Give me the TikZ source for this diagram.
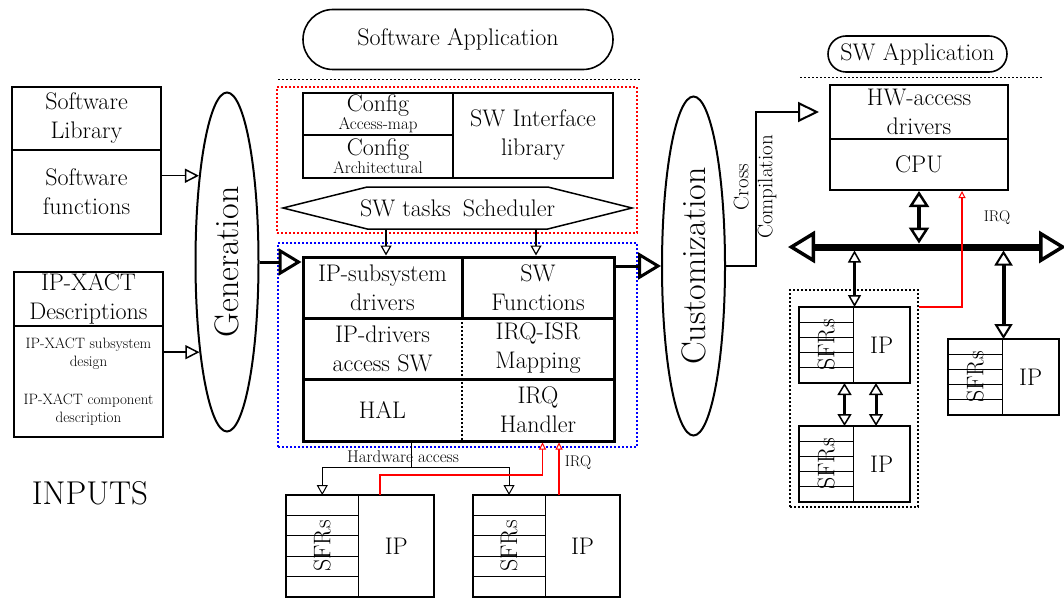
\documentclass[tikz,border=0pt]{standalone}
\usepackage{fontspec}
\usetikzlibrary{arrows.meta,shapes.geometric,shapes.symbols,calc}

\newcommand{\normtxt}{\fontsize{24}{29}\selectfont}
\newcommand{\smalltxt}{\fontsize{17}{19}\selectfont}
\newcommand{\tinytxt}{\fontsize{15}{18}\selectfont}
\newcommand{\midtxt}{\fontsize{21}{24}\selectfont}
\newcommand{\irqtxt}{\fontsize{15.5}{17}\selectfont}
\newcommand{\hugetxt}{\fontsize{34}{38}\selectfont}

% IP block with its SFR column: name, centre, width, height
\newcommand{\ipblock}[4]{%
  \node[ipframe, minimum width=#3pt, minimum height=#4pt] (#1) at #2 {};
  \node[sfrcol, anchor=north west, minimum width=0.49*#3pt, minimum height=#4pt] (#1-sfr) at (#1.north west) {};
  \foreach \k in {1,...,4}
    \draw[line width=0.8pt] ($(#1-sfr.north west)!\k/5!(#1-sfr.south west)$) -- ($(#1-sfr.north east)!\k/5!(#1-sfr.south east)$);
  \node[rotate=90, font=\normtxt] (#1-sfrtxt) at (#1-sfr) {SFRs};
  \node[font=\normtxt] (#1-iptxt) at ($(#1-sfr.east)!0.5!(#1.east)$) {IP};
}

\begin{document}
\begin{tikzpicture}[x=1pt, y=-1pt,
    cell/.style = {draw, line width=2pt, align=center, inner sep=0pt, font=\normtxt},
    area/.style = {align=center, inner sep=0pt, font=\normtxt},
    stage/.style = {ellipse, draw, line width=2pt, minimum width=63pt,
        minimum height=339pt, inner sep=0pt},
    pill/.style = {draw, line width=1.6pt, font=\normtxt, inner sep=0pt},
    dotline/.style = {dash pattern=on 1.6pt off 2.4pt},
    zone/.style = {draw, dotline, line width=1.6pt, inner sep=0pt},
    ipframe/.style = {draw, line width=2.5pt, inner sep=0pt, outer sep=0pt},
    sfrcol/.style = {draw, line width=0.8pt, inner sep=0pt, outer sep=0pt},
    inarrow/.style = {line width=1.5pt, ->,
        >={Triangle[fill=white, length=14pt, width=14pt, line width=1.5pt]}},
    schedarrow/.style = {line width=1.5pt, ->,
        >={Triangle[fill=white, length=10pt, width=11pt, line width=1.2pt]}},
    bigarrow/.style = {line width=3pt, ->,
        >={Triangle[fill=white, length=23pt, width=27pt, line width=3pt]}},
    xarrow/.style = {line width=2pt, ->, shorten >=10pt,
        >={Triangle[fill=white, length=21pt, width=20pt, line width=2pt]}},
    bus/.style = {line width=7pt, <->,
        >={Triangle[fill=white, length=27pt, width=32pt, line width=3.5pt]}},
    cpulink/.style = {line width=4.5pt, <->, shorten >=3.5pt,
        >={Triangle[fill=white, length=16pt, width=20pt, line width=2.5pt]}},
    grplink/.style = {line width=2.5pt, <->, shorten <=3.5pt,
        >={Triangle[fill=white, length=12pt, width=13pt, line width=1.5pt]}},
    peerlink/.style = {line width=3pt, <->,
        >={Triangle[fill=white, length=12pt, width=14pt, line width=1.5pt]}},
    rlink/.style = {line width=4pt, <->, shorten <=3.5pt,
        >={Triangle[fill=white, length=15pt, width=18pt, line width=2pt]}},
    hwarrow/.style = {line width=1pt, ->,
        >={Triangle[fill=white, length=10pt, width=11pt, line width=1pt]}},
    irq/.style = {red, line width=1.3pt, ->,
        >={Triangle[fill=white, length=7pt, width=7pt, line width=1pt]}}]

    \useasboundingbox (0,0) rectangle (1064,599);

    % Inputs
    \node[cell, minimum width=149pt, minimum height=63pt] (swlib) at (86.5,118.5) {Software\\Library};
    \node[cell, minimum width=149pt, minimum height=84pt] (swfun) at (86.5,192) {Software\\functions};
    \node[cell, minimum width=149pt, minimum height=54pt] (ipx) at (88.5,299) {IP-XACT\\Descriptions};
    \node[cell, minimum width=149pt, minimum height=111pt, font=\tinytxt] (ipxd) at (88.5,381.5)
        {IP-XACT subsystem\\design\\[20pt]IP-XACT component\\description};
    \node[font=\fontsize{33}{36}\selectfont] (inputs) at (90,493) {INPUTS};

    % Generation
    \node[stage] (gen) at (227,262) {};
    \node[rotate=90, font=\hugetxt] (gentxt) at (gen) {Generation};
    \draw[inarrow] (gen.108 -| swfun.east) -- (gen.108);
    \draw[inarrow] (gen.253 -| ipxd.east) -- (gen.253);

    % Software application and configuration
    \node[pill, minimum width=310pt, minimum height=60pt, rounded corners=30pt] (swapp) at (458,39.5) {Software Application};
    \draw[dotline, line width=1pt] (278,80) -- (640,80);
    \node[zone, draw=red, minimum width=360pt, minimum height=146pt] (cfgzone) at (457,160) {};
    \node[zone, draw=blue, minimum width=359pt, minimum height=204pt] (drvzone) at (457.5,345) {};

    \node[cell, minimum width=150pt, minimum height=42pt] (cfgmap) at (378,114) {Config\\[-11pt]{\smalltxt Access-map}};
    \node[cell, minimum width=150pt, minimum height=43pt] (cfgarch) at (378,156.5) {Config\\[-11pt]{\smalltxt Architectural}};
    \node[cell, minimum width=160pt, minimum height=85pt] (swif) at (533,135.5) {SW Interface\\library};

    % Scheduler
    \node[signal, signal to=west and east, signal pointer angle=28, draw, line width=1.5pt,
        minimum width=349pt, minimum height=42pt, inner sep=0pt, inner xsep=-14pt,
        font=\normtxt] (sched) at (457.5,208) {SW tasks\enspace Scheduler};

    % Generated drivers
    \node[draw, line width=3pt, minimum width=311pt, minimum height=184pt, inner sep=0pt] (core) at (458.5,349) {};
    \node[area] (ipsd) at (382.5,287.5) {IP-subsystem\\drivers};
    \node[area] (swfn) at (538,287.5) {SW\\Functions};
    \node[area] (ipdr) at (382.5,348.5) {IP-drivers\\access SW};
    \node[area] (irqmap) at (538,348.5) {IRQ-ISR\\Mapping};
    \node[area] (hal) at (382.5,410) {HAL};
    \node[area] (irqh) at (538,410) {IRQ\\Handler};
    \draw[line width=3pt] (303,318) -- (614,318);
    \draw[line width=3pt] (303,379) -- (614,379);
    \draw[line width=3pt] (462,257) -- (462,318);
    \draw[dotline, line width=1.5pt] (462,318) -- (462,441);

    \draw[schedarrow] ([xshift=-71.5pt]sched.south) -- ([xshift=-71.5pt]sched.south |- core.north);
    \draw[schedarrow] ([xshift=78.5pt]sched.south) -- ([xshift=78.5pt]sched.south |- core.north);
    \draw[bigarrow] (gen.east) -- (gen.east -| core.west);

    % Hardware IPs below
    \ipblock{ipA}{(360,546)}{148}{102}
    \ipblock{ipB}{(546.5,546)}{147}{102}
    \coordinate (hwa) at ([xshift=110pt]core.south west);
    \draw[hwarrow] (hwa) -- ++(0,25) -| (ipA-sfr.north);
    \draw[hwarrow] (hwa) -- ++(0,25) -| (ipB-sfr.north);
    \node[font=\smalltxt] (hwlbl) at (403,457) {Hardware access};
    \coordinate (irqA) at ([xshift=94pt]ipA.north west);
    \coordinate (irqB) at ([xshift=86pt]ipB.north west);
    \draw[irq] (irqA) -- ++(0,-20) -| ([xshift=241pt]core.south west);
    \draw[irq] (irqB) -- (irqB |- core.south);
    \node[font=\irqtxt] (irqlbl) at (578,463) {IRQ};

    % Customization
    \node[stage] (cust) at (693.5,266) {};
    \node[rotate=90, font=\hugetxt] (custtxt) at (cust) {Customization};
    \draw[bigarrow] (cust.west -| core.east) -- (cust.west);

    % Target platform
    \node[pill, minimum width=179pt, minimum height=36pt, rounded corners=18pt] (swapp2) at (917.5,54) {SW Application};
    \draw[dotline, line width=1pt] (800,78) -- (1042,78);
    \node[cell, minimum width=178pt, minimum height=54pt] (hwdrv) at (919,112) {HW-access\\drivers};
    \node[cell, minimum width=178pt, minimum height=51pt] (cpu) at (919,164.5) {CPU};
    \draw[xarrow] (cust.east) -- ++(30,0) |- (hwdrv.west);
    \node[rotate=90, font=\midtxt, align=center] (cclbl) at (755,187) {Cross\\Compilation};

    \coordinate (busL) at (788,247);
    \coordinate (busR) at (1066,247);
    \draw[bus] (busL) -- (busR);
    \draw[cpulink] (cpu.south) -- (cpu.south |- busL);

    \node[zone, line width=1.2pt, minimum width=128pt, minimum height=217pt] (grp) at (854,398.5) {};
    \ipblock{ipG}{(854.5,345)}{111}{76}
    \ipblock{ipH}{(854.5,464)}{111}{76}
    \ipblock{ipR}{(1003.5,377)}{111}{76}
    \draw[grplink] (ipG.north |- busL) -- (ipG.north);
    \draw[peerlink] ([xshift=-10pt]ipG.south) -- ([xshift=-10pt]ipH.north);
    \draw[peerlink] ([xshift=21.5pt]ipG.south) -- ([xshift=21.5pt]ipH.north);
    \draw[rlink] (ipR.north |- busL) -- (ipR.north);
    \draw[irq] (ipG.north -| grp.east) -| ([xshift=43pt]cpu.south);
    \node[font=\irqtxt] (irqlbl2) at (997,218) {IRQ};

\end{tikzpicture}
\end{document}
